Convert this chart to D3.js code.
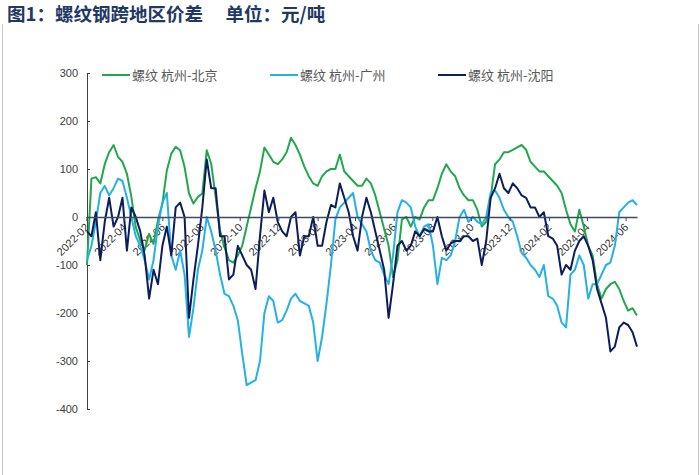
<!DOCTYPE html>
<html>
<head>
<meta charset="utf-8">
<script src="https://cdn.jsdelivr.net/npm/d3@7"></script>
<style>
body{margin:0;background:#fff;}
svg text{font-family:"Noto Sans CJK SC","Liberation Sans",sans-serif;}
</style>
</head>
<body>
<svg id="chart" width="700" height="475"></svg>
<script>
//Données hebdo (元/吨)
const startDate = new Date(2022, 1, 2);

const hzBj = [-100,80,83,70,110,135,150,125,115,90,42,-21,-49,-69,-35,-56,-7,28,97,132,
  146,139,104,49,28,42,49,139,111,42,-28,-63,-90,-95,-80,-60,-20,20,60,95,
  145,130,115,110,120,135,165,150,130,105,85,70,65,85,95,100,100,130,95,85,
  75,65,65,80,70,45,10,-25,-60,-125,-90,-5,0,-20,0,-5,20,35,35,60,
  90,110,95,85,60,45,35,35,15,-20,-10,40,110,120,135,135,140,145,150,140,
  115,105,95,95,85,75,65,50,15,-15,-30,15,-20,-60,-80,-140,-170,-150,-140,-135,
  -150,-175,-195,-190,-205];

const hzGz = [-90,-60,-10,50,65,45,60,80,75,40,0,-40,-60,-90,-130,-90,-20,30,50,-80,
  -110,-70,-120,-250,-190,-110,-70,0,-30,-70,-120,-160,-165,-185,-215,-285,-350,-345,-340,-300,
  -200,-165,-175,-220,-215,-195,-170,-160,-175,-180,-185,-220,-300,-250,-180,-100,-5,20,30,40,
  50,0,-15,-30,-70,-90,-95,-120,-140,-80,10,35,30,20,-20,-40,-20,-15,-60,-140,
  -85,-90,-80,-50,0,15,-10,0,-10,-15,0,50,55,40,15,0,-10,-40,-75,-85,
  -100,-110,-125,-100,-165,-170,-185,-220,-230,-120,-110,-80,-100,-170,-140,-140,-120,-100,-95,-60,
  10,20,30,35,25];

const hzSy = [-30,-40,10,-90,-10,40,-20,0,40,-70,20,0,-30,-80,-170,-110,-140,-60,-20,-80,
  20,30,0,-210,-130,-60,20,120,60,60,-40,-40,-130,-120,-60,-80,-100,-110,-150,-40,
  55,10,40,-10,-30,-40,0,10,-80,-40,-40,0,-60,-60,-10,25,20,70,40,10,
  -40,-70,0,40,10,-30,-70,-110,-210,-140,-60,-50,-70,-60,-30,-40,-25,-30,-30,0,
  -40,-70,-55,-50,-50,-40,-40,-50,-45,-100,-50,40,60,90,60,50,70,60,45,40,
  20,20,0,10,-40,-45,-60,-120,-100,-110,-70,-50,-40,-60,-90,-150,-180,-210,-280,-270,
  -230,-220,-225,-240,-270];

const seriesNames = ["螺纹 杭州-北京", "螺纹 杭州-广州", "螺纹 杭州-沈阳"];
const seriesColors = ["#21a84d", "#25b0e6", "#0c1d5c"];
const yTicks = [300, 200, 100, 0, -100, -200, -300, -400];
const xTickLabels = ["2022-02","2022-04","2022-06","2022-08","2022-10","2022-12","2023-02",
  "2023-04","2023-06","2023-08","2023-10","2023-12","2024-02","2024-04","2024-06"];

var dates = hzBj.map((d, i) => d3.timeDay.offset(startDate, 7 * i));
var allSeries = [hzBj, hzGz, hzSy];

const svg = d3.select("#chart");

//cadre gris + titre
svg.append("line").attr("x1", 2.5).attr("x2", 2.5).attr("y1", 24).attr("y2", 475)
  .attr("stroke", "#c8c8c8").attr("stroke-width", 1);
svg.append("line").attr("x1", 698.5).attr("x2", 698.5).attr("y1", 24).attr("y2", 475)
  .attr("stroke", "#c8c8c8").attr("stroke-width", 1);
svg.append("text")
  .attr("x", 7).attr("y", 21)
  .attr("font-size", "18.5px").attr("font-weight", "bold")
  .attr("fill", "#1f3864")
  .style("white-space", "pre")
  .text("图1：螺纹钢跨地区价差　 单位：元/吨");

const x = d3.scaleTime()
  .domain([dates[0], dates[dates.length - 1]])
  .range([87, 637]);
const y = d3.scaleLinear()
  .domain([-400, 300])
  .range([409, 73]);

//axe Y (petits ticks vers l'intérieur)
const yAxis = svg.append("g")
  .attr("transform", "translate(87,0)")
  .call(d3.axisLeft(y).tickValues(yTicks).tickSizeInner(-3).tickSizeOuter(0)
    .tickPadding(9).tickFormat(d => String(d)));
yAxis.select(".domain").attr("stroke", "#404040");
yAxis.selectAll(".tick line").attr("stroke", "#404040");
yAxis.selectAll("text").attr("font-size", "11px").attr("fill", "#404040")
  .style("font-family", "Liberation Sans");

//labels de l'axe X, sous les courbes
var parseM = d3.timeParse("%Y-%m");
var xTickDates = xTickLabels.map(parseM);
const xAxis = svg.append("g")
  .attr("transform", `translate(0,${y(0)})`)
  .call(d3.axisBottom(x).tickValues(xTickDates).tickSize(4).tickSizeOuter(0)
    .tickFormat(d3.timeFormat("%Y-%m")));
xAxis.select(".domain").remove();
xAxis.selectAll(".tick line").remove();
xAxis.selectAll("text")
  .attr("x", 0).attr("y", 0).attr("dy", 0)
  .attr("text-anchor", "end")
  .attr("transform", "translate(3,11) rotate(-45)")
  .attr("font-size", "11px").attr("fill", "#333")
  .style("font-family", "Liberation Sans");

//les trois courbes
const line = d3.line()
  .x((d, i) => x(dates[i]))
  .y(d => y(d));

allSeries.forEach((s, k) => {
  svg.append("path")
    .datum(s)
    .attr("fill", "none")
    .attr("stroke", seriesColors[k])
    .attr("stroke-width", 2)
    .attr("stroke-linejoin", "round")
    .attr("d", line);
});

//ligne du zéro par dessus + ticks
const zeroAxis = svg.append("g")
  .attr("transform", `translate(0,${y(0)})`)
  .call(d3.axisBottom(x).tickValues(xTickDates).tickSize(4).tickSizeOuter(0).tickFormat(""));
zeroAxis.select(".domain").attr("stroke", "#3c4a66").attr("stroke-width", 1.6);
zeroAxis.selectAll(".tick line").attr("stroke", "#3c4a66");

//légende
const legendX = [102, 270, 438];
seriesNames.forEach((name, k) => {
  const g = svg.append("g").attr("transform", `translate(${legendX[k]},75)`);
  g.append("line").attr("x1", 0).attr("x2", 28).attr("y1", 0).attr("y2", 0)
    .attr("stroke", seriesColors[k]).attr("stroke-width", 2);
  g.append("text").attr("x", 30).attr("y", 0).attr("dy", "0.35em")
    .attr("font-size", "13px").attr("fill", "#595959")
    .style("white-space", "pre")
    .text(name);
});
</script>
</body>
</html>
